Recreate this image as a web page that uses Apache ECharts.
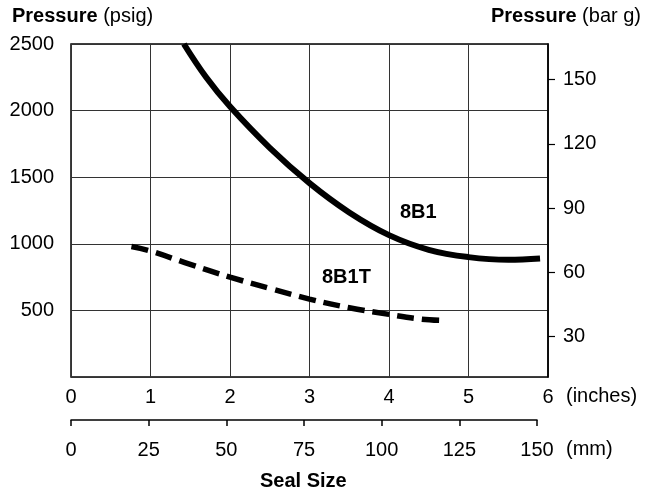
<!DOCTYPE html>
<html>
<head>
<meta charset="utf-8">
<script src="https://cdn.jsdelivr.net/npm/echarts@6/dist/echarts.min.js"></script>
<style>
    html, body { margin: 0; padding: 0; background: #fff; }
    #chart { width: 651px; height: 493px; }
</style>
</head>
<body>
<div id="chart"></div>
<script>
    // seal size (inches) vs pressure (psig)
    var solidX = [1.42, 1.7, 2.0, 2.5, 3.0, 3.5, 4.0, 4.5, 5.0, 5.5, 5.9];
    var solidY = [2500, 2250, 2030, 1720, 1455, 1235, 1065, 955, 900, 880, 890];
    var dashX = [0.76, 1.0, 1.5, 2.0, 2.5, 3.0, 3.5, 4.0, 4.4, 4.68];
    var dashY = [980, 946, 845, 750, 665, 585, 520, 470, 435, 425];

    var psiTicks = [500, 1000, 1500, 2000, 2500];
    var barTicks = [30, 60, 90, 120, 150];

    var font = '"Liberation Sans", Arial, sans-serif';

    function pairs(xs, ys) {
        var out = [];
        for (var i = 0; i < xs.length; i++) {
            out.push([xs[i], ys[i]]);
        }
        return out;
    }

    var myChart = echarts.init(document.getElementById('chart'));

    var option = {
        animation: false,
        textStyle: {fontFamily: font, color: '#000'},
        grid: [
            {left: 71, top: 44, width: 477, height: 333, show: true, borderColor: '#000', borderWidth: 1.5},
            {left: 71, top: 380, width: 466, height: 40}   // mm scale below
        ],
        xAxis: [
            {
                gridIndex: 0, type: 'value', min: 0, max: 6, interval: 1,
                axisLine: {show: false},
                axisTick: {show: false},
                axisLabel: {margin: 10, fontSize: 20, color: '#000', fontFamily: font},
                splitLine: {show: true, lineStyle: {color: '#333', width: 1}}
            },
            {
                gridIndex: 1, type: 'value', min: 0, max: 150, interval: 25, position: 'bottom',
                axisLine: {show: true, lineStyle: {color: '#000', width: 1.5}},
                axisTick: {show: true, length: 6, lineStyle: {color: '#000', width: 1.5}},
                axisLabel: {margin: 20, fontSize: 20, color: '#000', fontFamily: font},
                splitLine: {show: false}
            }
        ],
        yAxis: [
            {
                gridIndex: 0, type: 'value', min: 0, max: 2500, interval: 500,
                axisLine: {show: false},
                axisTick: {show: false},
                axisLabel: {
                    margin: 17, fontSize: 20, color: '#000', fontFamily: font,
                    formatter: function (v) { return v === 0 ? '' : v; }
                },
                splitLine: {show: true, lineStyle: {color: '#333', width: 1}}
            },
            {
                // bar g scale, drawn where the picture puts it
                gridIndex: 0, type: 'value', position: 'right', min: 11.1, max: 166.6,
                axisLine: {show: true, lineStyle: {color: '#000', width: 1.5}},
                axisTick: {show: true, length: 7, customValues: barTicks, lineStyle: {color: '#000', width: 1.2}},
                axisLabel: {margin: 15, fontSize: 20, color: '#000', fontFamily: font, customValues: barTicks},
                splitLine: {show: false}
            },
            {gridIndex: 1, type: 'value', show: false}
        ],
        graphic: [
            {
                type: 'text', left: 12, top: 6,
                style: {
                    text: '{b|Pressure} (psig)', fontSize: 20, fontFamily: font, fill: '#000',
                    rich: {b: {fontWeight: 'bold', fontSize: 20, fontFamily: font}}
                }
            },
            {
                type: 'text', right: 10, top: 6,
                style: {
                    text: '{b|Pressure} (bar g)', fontSize: 20, fontFamily: font, fill: '#000',
                    rich: {b: {fontWeight: 'bold', fontSize: 20, fontFamily: font}}
                }
            },
            {type: 'text', left: 566, top: 386, style: {text: '(inches)', fontSize: 20, fontFamily: font, fill: '#000'}},
            {type: 'text', left: 566, top: 439, style: {text: '(mm)', fontSize: 20, fontFamily: font, fill: '#000'}},
            {
                type: 'text', left: 260, top: 471,
                style: {text: 'Seal Size', fontSize: 20, fontWeight: 'bold', fontFamily: font, fill: '#000'}
            },
            {
                type: 'text', left: 400, top: 202,
                style: {text: '8B1', fontSize: 20, fontWeight: 'bold', fontFamily: font, fill: '#000'}
            },
            {
                type: 'text', left: 322, top: 267,
                style: {text: '8B1T', fontSize: 20, fontWeight: 'bold', fontFamily: font, fill: '#000'}
            }
        ],
        series: [
            {
                name: '8B1', type: 'line', xAxisIndex: 0, yAxisIndex: 0,
                smooth: 0.4, symbol: 'none',
                lineStyle: {color: '#000', width: 6},
                data: pairs(solidX, solidY)
            },
            {
                name: '8B1T', type: 'line', xAxisIndex: 0, yAxisIndex: 0,
                smooth: 0.4, symbol: 'none',
                lineStyle: {color: '#000', width: 5.5, type: [17, 8]},
                data: pairs(dashX, dashY)
            }
        ]
    };

    myChart.setOption(option);
</script>
</body>
</html>
